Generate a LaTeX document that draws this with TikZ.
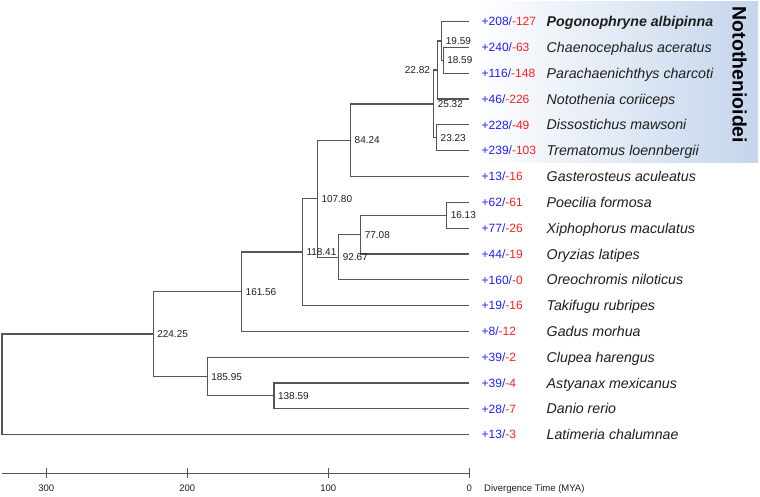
\documentclass[tikz,border=0pt]{standalone}
\usepackage{fontspec}
\setmainfont{Liberation Sans}
\definecolor{br}{RGB}{85,85,85}
\definecolor{cblue}{RGB}{30,30,255}
\definecolor{cred}{RGB}{255,30,30}
\definecolor{boxblue}{RGB}{196,213,236}
\definecolor{txt}{RGB}{30,30,30}
\begin{document}
\begin{tikzpicture}[x=1pt,y=-1pt,
  branch/.style={draw=br,line width=1.2pt},
  axisline/.style={draw=br,line width=1.1pt},
  nlab/.style={anchor=base west,inner sep=0pt,font=\fontsize{10}{12}\selectfont,text=txt,yshift=-3.6pt,xshift=4pt},
  nlabl/.style={anchor=base east,inner sep=0pt,font=\fontsize{10}{12}\selectfont,text=txt,yshift=-3.6pt,xshift=-7pt},
  cnt/.style={anchor=base west,inner sep=0pt,font=\fontsize{12}{14}\selectfont,yshift=-4.3pt},
  sp/.style={anchor=base west,inner sep=0pt,font=\fontsize{14.2}{16}\selectfont\itshape,text=txt,yshift=-5.1pt},
  axlab/.style={anchor=center,inner sep=0pt,font=\fontsize{9.5}{11}\selectfont,text=txt}]
\useasboundingbox (0,0) rectangle (760,497);
% clade background
\shade[left color=white,right color=boxblue] (476,2) rectangle (758,163);
% tips
\coordinate (t0) at (468.5,21.7);
\coordinate (t1) at (468.5,47.5);
\coordinate (t2) at (468.5,73.3);
\coordinate (t3) at (468.5,99.1);
\coordinate (t4) at (468.5,124.9);
\coordinate (t5) at (468.5,150.7);
\coordinate (t6) at (468.5,176.5);
\coordinate (t7) at (468.5,202.3);
\coordinate (t8) at (468.5,228.1);
\coordinate (t9) at (468.5,253.9);
\coordinate (t10) at (468.5,279.7);
\coordinate (t11) at (468.5,305.5);
\coordinate (t12) at (468.5,331.3);
\coordinate (t13) at (468.5,357.1);
\coordinate (t14) at (468.5,382.9);
\coordinate (t15) at (468.5,408.7);
\coordinate (t16) at (468.5,434.5);
% internal nodes
\coordinate (n1859) at (443.1,60.4);
\coordinate (n1959) at (441.7,41.05);
\coordinate (n2282) at (437.1,70.08);
\coordinate (n2323) at (436.5,137.8);
\coordinate (n2532) at (433.6,103.94);
\coordinate (n8424) at (350.5,140.22);
\coordinate (n1613) at (446.6,215.2);
\coordinate (n7708) at (360.6,234.55);
\coordinate (n9267) at (338.6,257.13);
\coordinate (n10780) at (317.3,198.67);
\coordinate (n11841) at (302.3,252.09);
\coordinate (n16156) at (241.5,291.7);
\coordinate (n13859) at (273.9,395.8);
\coordinate (n18595) at (207.1,376.45);
\coordinate (n22425) at (153.1,334.08);
\coordinate (root) at (2,384.3);
% branches
\draw[branch] (t1) -| (n1859) |- (t2);
\draw[branch] (t0) -| (n1959) |- (n1859);
\draw[branch] (n1959) -| (n2282) |- (t3);
\draw[branch] (t4) -| (n2323) |- (t5);
\draw[branch] (n2282) -| (n2532) |- (n2323);
\draw[branch] (n2532) -| (n8424) |- (t6);
\draw[branch] (t7) -| (n1613) |- (t8);
\draw[branch] (n1613) -| (n7708) |- (t9);
\draw[branch] (n7708) -| (n9267) |- (t10);
\draw[branch] (n8424) -| (n10780) |- (n9267);
\draw[branch] (n10780) -| (n11841) |- (t11);
\draw[branch] (n11841) -| (n16156) |- (t12);
\draw[branch] (t14) -| (n13859) |- (t15);
\draw[branch] (t13) -| (n18595) |- (n13859);
\draw[branch] (n16156) -| (n22425) |- (n18595);
\draw[branch] (n22425) -| (root) |- (t16);
% node labels
\node[nlab] (l1859) at (n1859) {18.59};
\node[nlab] (l1959) at (n1959) {19.59};
\node[nlabl] (l2282) at (n2282) {22.82};
\node[nlab] (l2323) at (n2323) {23.23};
\node[nlab] (l2532) at (n2532) {25.32};
\node[nlab] (l8424) at (n8424) {84.24};
\node[nlab] (l1613) at (n1613) {16.13};
\node[nlab] (l7708) at (n7708) {77.08};
\node[nlab] (l9267) at (n9267) {92.67};
\node[nlab] (l10780) at (n10780) {107.80};
\node[nlab] (l11841) at (n11841) {118.41};
\node[nlab] (l16156) at (n16156) {161.56};
\node[nlab] (l13859) at (n13859) {138.59};
\node[nlab] (l18595) at (n18595) {185.95};
\node[nlab] (l22425) at (n22425) {224.25};
% gain/loss counts
\newcommand{\gl}[2]{{\color{cblue}+#1/}{\color{cred}-#2}}
\node[cnt] (c0) at (481.5,21.7) {\gl{208}{127}};
\node[cnt] (c1) at (481.5,47.5) {\gl{240}{63}};
\node[cnt] (c2) at (481.5,73.3) {\gl{116}{148}};
\node[cnt] (c3) at (481.5,99.1) {\gl{46}{226}};
\node[cnt] (c4) at (481.5,124.9) {\gl{228}{49}};
\node[cnt] (c5) at (481.5,150.7) {\gl{239}{103}};
\node[cnt] (c6) at (481.5,176.5) {\gl{13}{16}};
\node[cnt] (c7) at (481.5,202.3) {\gl{62}{61}};
\node[cnt] (c8) at (481.5,228.1) {\gl{77}{26}};
\node[cnt] (c9) at (481.5,253.9) {\gl{44}{19}};
\node[cnt] (c10) at (481.5,279.7) {\gl{160}{0}};
\node[cnt] (c11) at (481.5,305.5) {\gl{19}{16}};
\node[cnt] (c12) at (481.5,331.3) {\gl{8}{12}};
\node[cnt] (c13) at (481.5,357.1) {\gl{39}{2}};
\node[cnt] (c14) at (481.5,382.9) {\gl{39}{4}};
\node[cnt] (c15) at (481.5,408.7) {\gl{28}{7}};
\node[cnt] (c16) at (481.5,434.5) {\gl{13}{3}};
% species
\node[sp] (s0) at (546.5,21.7) {\bfseries Pogonophryne albipinna};
\node[sp] (s1) at (546.5,47.5) {Chaenocephalus aceratus};
\node[sp] (s2) at (546.5,73.3) {Parachaenichthys charcoti};
\node[sp] (s3) at (546.5,99.1) {Notothenia coriiceps};
\node[sp] (s4) at (546.5,124.9) {Dissostichus mawsoni};
\node[sp] (s5) at (546.5,150.7) {Trematomus loennbergii};
\node[sp] (s6) at (546.5,176.5) {Gasterosteus aculeatus};
\node[sp] (s7) at (546.5,202.3) {Poecilia formosa};
\node[sp] (s8) at (546.5,228.1) {Xiphophorus maculatus};
\node[sp] (s9) at (546.5,253.9) {Oryzias latipes};
\node[sp] (s10) at (546.5,279.7) {Oreochromis niloticus};
\node[sp] (s11) at (546.5,305.5) {Takifugu rubripes};
\node[sp] (s12) at (546.5,331.3) {Gadus morhua};
\node[sp] (s13) at (546.5,357.1) {Clupea harengus};
\node[sp] (s14) at (546.5,382.9) {Astyanax mexicanus};
\node[sp] (s15) at (546.5,408.7) {Danio rerio};
\node[sp] (s16) at (546.5,434.5) {Latimeria chalumnae};
% clade label
\node[rotate=-90,inner sep=0pt,font=\fontsize{19.5}{22}\selectfont\bfseries,text=black] (clade) at (739.5,75) {Notothenioidei};
% time axis
\coordinate (a0) at (2,473.3);
\coordinate (a1) at (469.3,473.3);
\draw[axisline] (a0) -- (a1);
\foreach \t/\xx in {300/46.3,200/187.3,100/328.3,0/469.3}{
  \coordinate (k\t) at (\xx,473.3);
  \draw[axisline] ([yshift=5pt]k\t) -- ([yshift=-5pt]k\t);
  \node[axlab] (al\t) at (\xx,488) {\t};
}
\node[axlab,anchor=base west] (axtitle) at (484,491.4) {Divergence Time (MYA)};
\end{tikzpicture}
\end{document}
